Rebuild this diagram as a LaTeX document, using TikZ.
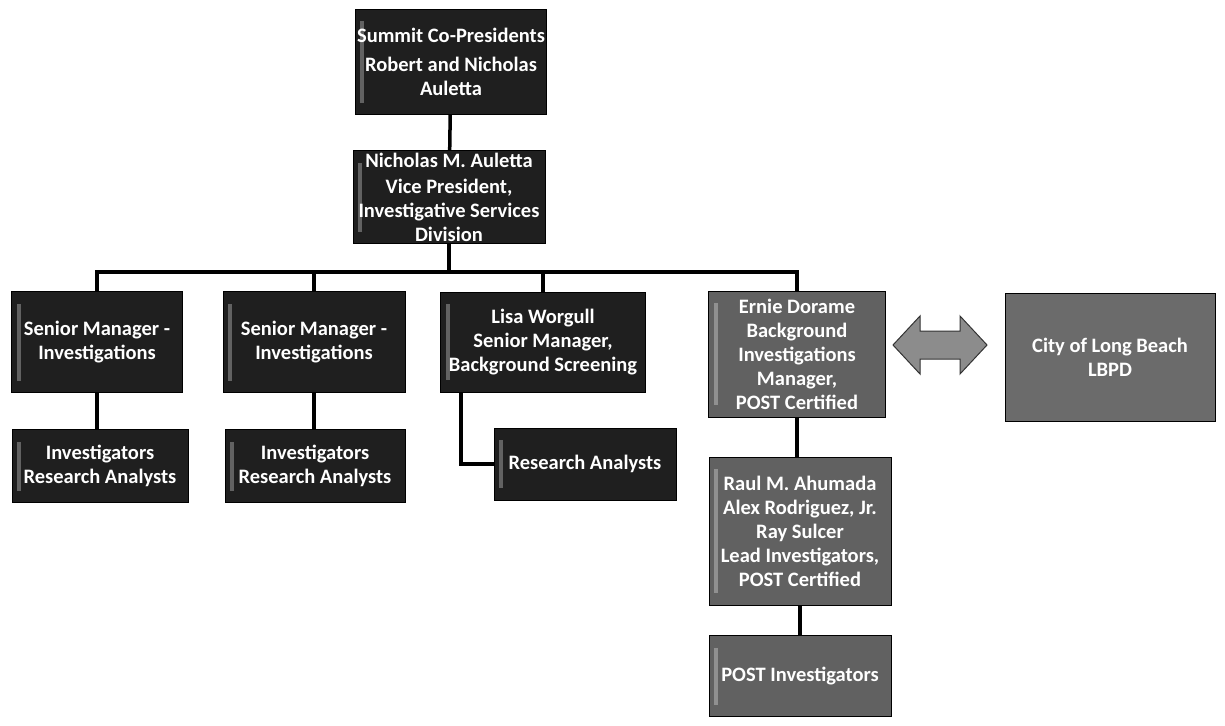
\documentclass[tikz,border=0pt]{standalone}
\usepackage{fontspec}
\setmainfont{Carlito}
\usepackage{tikz}
\usetikzlibrary{positioning}

\tikzset{
  orgbox/.style={rectangle, draw=black, line width=1pt, fill=black!88,
    text=white, align=center, inner sep=2pt,
    font=\fontsize{20.5}{24}\selectfont\bfseries,
    path picture={\fill[white,opacity=.3]
      ([xshift=5pt,yshift=-12pt]path picture bounding box.north west) rectangle
      ([xshift=9pt,yshift=12pt]path picture bounding box.south west);}},
  greybox/.style={orgbox, fill=black!62},
  citybox/.style={orgbox, fill=black!58, path picture={}},
  link/.style={line width=3.5pt, black}
}

\begin{document}
\begin{tikzpicture}[x=1pt,y=-1pt]
    \useasboundingbox (0,0) rectangle (1225,725);

    % top of the chart
    \node[orgbox, minimum width=180pt, minimum height=105pt] (pres) at (451,62)
      {Summit Co-Presidents\\[5pt] Robert and Nicholas\\ Auletta};
    \node[orgbox, minimum width=192pt, minimum height=93pt] (vp) at (449,197)
      {Nicholas M. Auletta\\[2pt] Vice President,\\ Investigative Services\\ Division};

    % managers
    \node[orgbox, minimum width=171pt, minimum height=101pt] (smA) at (97,342)
      {Senior Manager -\\ Investigations};
    \node[orgbox, minimum width=182pt, minimum height=101pt] (smB) at (314,342)
      {Senior Manager -\\ Investigations};
    \node[orgbox, minimum width=205pt, minimum height=100pt] (lisa) at (543,342)
      {Lisa Worgull\\ Senior Manager,\\ Background Screening};
    \node[greybox, minimum width=177pt, minimum height=126pt] (ernie) at (797,354)
      {Ernie Dorame\\ Background\\ Investigations\\ Manager,\\ POST Certified};
    \node[citybox, minimum width=210pt, minimum height=128pt] (city) at (1110,357)
      {City of Long Beach\\ LBPD};

    % two-way arrow between Ernie and the city
    \draw[draw=black!80, line width=1pt, fill=black!45]
      (893,345) -- (920,316) -- (920,331) -- (960,331) -- (960,316) -- (987,345)
      -- (960,374) -- (960,359) -- (920,359) -- (920,374) -- cycle;

    % staff
    \node[orgbox, minimum width=176pt, minimum height=73pt] (invA) at (100,466)
      {Investigators\\ Research Analysts};
    \node[orgbox, minimum width=180pt, minimum height=73pt] (invB) at (315,466)
      {Investigators\\ Research Analysts};
    \node[orgbox, minimum width=182pt, minimum height=72pt] (ra) at (585,464)
      {Research Analysts};
    \node[greybox, minimum width=182pt, minimum height=148pt] (lead) at (800,531)
      {Raul M. Ahumada\\ Alex Rodriguez, Jr.\\ Ray Sulcer\\ Lead Investigators,\\ POST Certified};
    \node[greybox, minimum width=182pt, minimum height=81pt] (post) at (800,676)
      {POST Investigators};

    \coordinate (bus) at (449,272);

    \draw[link] (pres) -- (vp);
    \draw[link] (vp) -- (bus);
    \draw[link] (bus) -| (smA.north);
    \draw[link] (bus) -| (smB.north);
    \draw[link] (bus) -| (lisa.north);
    \draw[link] (bus) -| (ernie.north);

    \draw[link] (smA) -- (smA |- invA.north);
    \draw[link] (smB) -- (smB |- invB.north);
    \draw[link] ([xshift=21pt]lisa.south west) |- (ra.west);
    \draw[link] (ernie.south) -- (ernie.south |- lead.north);
    \draw[link] (lead.south) -- (lead.south |- post.north);

  \end{tikzpicture}
\end{document}
